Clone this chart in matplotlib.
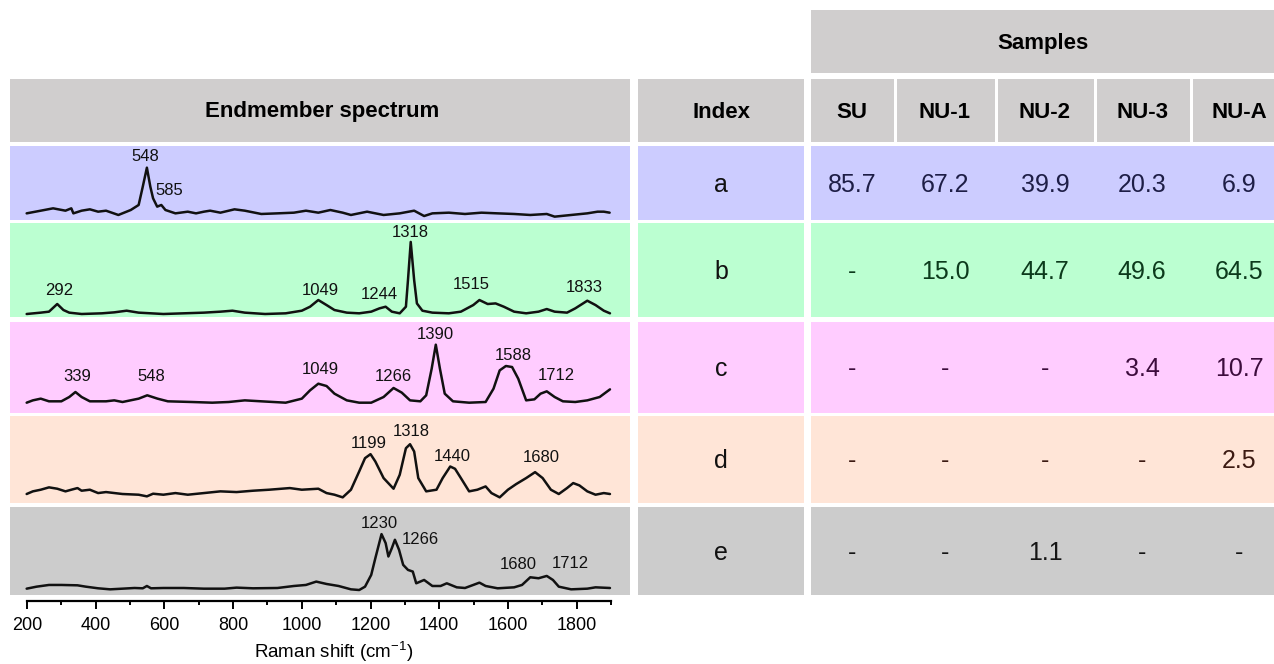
import matplotlib
matplotlib.use('Agg')
import matplotlib.pyplot as plt
from matplotlib.patches import Rectangle

plt.rcParams['font.family'] = ['Liberation Sans', 'DejaVu Sans']
plt.rcParams['mathtext.fontset'] = 'custom'
plt.rcParams['mathtext.rm'] = 'Liberation Sans'
plt.rcParams['mathtext.it'] = 'Liberation Sans:italic'
plt.rcParams['mathtext.bf'] = 'Liberation Sans:bold'

# ---------------- data ----------------
# Endmember spectra (Raman shift in cm-1, normalised intensity)
a_shift = [199, 240, 276, 312, 329, 335, 359, 383, 407, 430, 466, 502, 525, 537, 549, 559, 567, 579,
           591, 603, 632, 668, 692, 715, 733, 763, 804, 834, 882, 929, 977, 1012, 1048, 1083, 1119,
           1143, 1190, 1238, 1285, 1327, 1356, 1380, 1428, 1475, 1523, 1570, 1618, 1665, 1713, 1736,
           1784, 1831, 1861, 1879, 1896]
a_int = [0.127, 0.178, 0.223, 0.178, 0.223, 0.127, 0.178, 0.204, 0.159, 0.178, 0.096, 0.191, 0.287,
         0.637, 1.000, 0.637, 0.414, 0.255, 0.287, 0.191, 0.127, 0.159, 0.127, 0.159, 0.178, 0.140,
         0.204, 0.178, 0.115, 0.127, 0.140, 0.178, 0.140, 0.191, 0.140, 0.096, 0.159, 0.096, 0.127,
         0.178, 0.076, 0.127, 0.140, 0.115, 0.140, 0.127, 0.115, 0.096, 0.115, 0.064, 0.096, 0.127,
         0.159, 0.159, 0.140]

b_shift = [199, 240, 264, 288, 306, 323, 359, 418, 454, 490, 525, 597, 656, 715, 763, 798, 834, 893,
           953, 1000, 1024, 1048, 1072, 1095, 1131, 1167, 1202, 1226, 1244, 1262, 1285, 1303, 1309,
           1317, 1327, 1335, 1351, 1380, 1428, 1463, 1499, 1517, 1541, 1564, 1588, 1618, 1653, 1689,
           1713, 1736, 1772, 1796, 1831, 1855, 1879, 1897]
b_int = [0.040, 0.058, 0.071, 0.173, 0.093, 0.058, 0.040, 0.049, 0.062, 0.084, 0.058, 0.040, 0.049,
         0.058, 0.071, 0.084, 0.058, 0.040, 0.049, 0.084, 0.137, 0.226, 0.159, 0.093, 0.058, 0.049,
         0.071, 0.115, 0.137, 0.071, 0.049, 0.137, 0.491, 1.000, 0.491, 0.181, 0.084, 0.058, 0.049,
         0.071, 0.159, 0.226, 0.173, 0.181, 0.137, 0.071, 0.049, 0.071, 0.106, 0.071, 0.058, 0.115,
         0.217, 0.159, 0.084, 0.049]

c_shift = [199, 217, 240, 264, 300, 323, 341, 359, 383, 430, 454, 478, 525, 550, 580, 610, 680, 739,
           787, 834, 882, 953, 1000, 1024, 1048, 1072, 1095, 1131, 1167, 1202, 1238, 1267, 1291, 1315,
           1345, 1362, 1378, 1390, 1402, 1416, 1440, 1487, 1535, 1558, 1576, 1594, 1612, 1630, 1653,
           1677, 1695, 1713, 1736, 1760, 1796, 1831, 1867, 1897]
c_int = [0.151, 0.185, 0.210, 0.171, 0.171, 0.234, 0.307, 0.234, 0.171, 0.171, 0.185, 0.161, 0.210,
         0.259, 0.210, 0.171, 0.161, 0.151, 0.161, 0.185, 0.171, 0.151, 0.210, 0.332, 0.429, 0.395,
         0.283, 0.185, 0.151, 0.151, 0.234, 0.366, 0.298, 0.185, 0.171, 0.259, 0.649, 1.000, 0.649,
         0.283, 0.171, 0.151, 0.161, 0.356, 0.624, 0.688, 0.673, 0.502, 0.185, 0.200, 0.283, 0.317,
         0.234, 0.171, 0.161, 0.185, 0.234, 0.346]

d_shift = [199, 217, 240, 264, 288, 312, 329, 347, 359, 383, 407, 430, 478, 525, 549, 567, 597, 632,
           668, 715, 763, 810, 858, 905, 965, 1000, 1048, 1072, 1095, 1119, 1143, 1167, 1184, 1200,
           1214, 1238, 1267, 1285, 1303, 1315, 1327, 1339, 1362, 1392, 1410, 1432, 1446, 1463, 1487,
           1511, 1535, 1552, 1576, 1600, 1624, 1653, 1679, 1701, 1725, 1748, 1772, 1790, 1808, 1831,
           1855, 1879, 1897]
d_int = [0.153, 0.198, 0.226, 0.266, 0.243, 0.198, 0.226, 0.254, 0.209, 0.226, 0.169, 0.186, 0.153,
         0.141, 0.113, 0.158, 0.141, 0.169, 0.141, 0.169, 0.198, 0.186, 0.209, 0.226, 0.254, 0.226,
         0.243, 0.169, 0.141, 0.096, 0.226, 0.537, 0.763, 0.831, 0.706, 0.424, 0.243, 0.480, 0.932,
         1.000, 0.876, 0.424, 0.198, 0.226, 0.424, 0.621, 0.582, 0.424, 0.198, 0.226, 0.282, 0.169,
         0.096, 0.226, 0.322, 0.424, 0.525, 0.424, 0.226, 0.153, 0.254, 0.339, 0.299, 0.198, 0.141,
         0.169, 0.153]

e_shift = [199, 228, 264, 300, 347, 371, 407, 442, 478, 513, 537, 549, 561, 597, 656, 715, 775, 810,
           858, 929, 977, 1012, 1042, 1072, 1107, 1143, 1167, 1184, 1202, 1214, 1232, 1244, 1252, 1262,
           1271, 1283, 1295, 1309, 1323, 1333, 1356, 1380, 1404, 1422, 1451, 1475, 1499, 1517, 1535,
           1570, 1618, 1641, 1665, 1689, 1713, 1731, 1748, 1784, 1831, 1855, 1897]
e_int = [0.104, 0.137, 0.165, 0.165, 0.159, 0.137, 0.110, 0.093, 0.104, 0.115, 0.110, 0.148, 0.110,
         0.115, 0.115, 0.104, 0.104, 0.121, 0.110, 0.115, 0.148, 0.165, 0.220, 0.181, 0.148, 0.093,
         0.082, 0.137, 0.330, 0.604, 1.000, 0.852, 0.632, 0.769, 0.907, 0.742, 0.495, 0.412, 0.385,
         0.192, 0.247, 0.148, 0.148, 0.192, 0.126, 0.115, 0.165, 0.203, 0.148, 0.110, 0.126, 0.165,
         0.291, 0.275, 0.313, 0.247, 0.137, 0.093, 0.104, 0.126, 0.115]

# Peak labels for each endmember
a_peaks = ['548', '585']
b_peaks = ['292', '1049', '1244', '1318', '1515', '1833']
c_peaks = ['339', '548', '1049', '1266', '1390', '1588', '1712']
d_peaks = ['1199', '1318', '1440', '1680']
e_peaks = ['1230', '1266', '1680', '1712']

# Table content
index_labels = ['a', 'b', 'c', 'd', 'e']
sample_names = ['SU', 'NU-1', 'NU-2', 'NU-3', 'NU-A']
su = [85.7, None, None, None, None]
nu1 = [67.2, 15.0, None, None, None]
nu2 = [39.9, 44.7, None, None, 1.1]
nu3 = [20.3, 49.6, 3.4, None, None]
nua = [6.9, 64.5, 10.7, 2.5, None]

# ---------------- layout & style ----------------
W, H = 1274, 664
fig = plt.figure(figsize=(W / 100, H / 100), dpi=100)
fig.patch.set_facecolor('white')

row_colors = ['#CCCCFF', '#BBFFD1', '#FFCCFF', '#FFE5D7', '#CCCCCC']
text_colors = ['#1E1E46', '#0C3A1C', '#3C0C3C', '#3C1A12', '#151515']
header_color = '#D0CECE'

row_px = [(146, 220), (223, 317), (322, 413), (416, 503), (507, 595)]
row_ytop = [1.414, 1.252, 1.332, 1.480, 1.445]
label_pos = [
    [(545, 1.21), (614, 0.573)],
    [(294, 0.358), (1054, 0.358), (1226, 0.305), (1317, 1.119), (1493, 0.438), (1822, 0.394)],
    [(347, 0.527), (561, 0.527), (1054, 0.639), (1267, 0.541), (1390, 1.151), (1615, 0.844),
     (1742, 0.551)],
    [(1196, 1.017), (1318, 1.215), (1437, 0.791), (1698, 0.774)],
    [(1226, 1.181), (1345, 0.907), (1630, 0.495), (1782, 0.522)],
]


def fx(x):
    return x / W


def fy(y):
    return 1 - y / H


def add_box(x0, y0, x1, y1, color):
    fig.add_artist(Rectangle((fx(x0), fy(y1)), fx(x1) - fx(x0), fy(y0) - fy(y1),
                             transform=fig.transFigure, facecolor=color,
                             edgecolor='none', zorder=0))


def add_text(x, y, s, **kw):
    fig.text(fx(x), fy(y), s, ha='center', va='center', **kw)


# Header row
add_box(811, 10, 1274, 73, header_color)
add_text(1043, 43, 'Samples', fontsize=16, fontweight='bold')
add_box(10, 79, 630, 142, header_color)
add_text(322, 111, 'Endmember spectrum', fontsize=16, fontweight='bold')
add_box(638, 79, 804, 142, header_color)
add_text(721, 112, 'Index', fontsize=16, fontweight='bold')
col_px = [(811, 894), (897, 995), (998, 1094), (1097, 1190), (1193, 1274)]
col_center = [852, 945, 1045, 1142, 1239]
for (c0, c1), cx, name in zip(col_px, col_center, sample_names):
    add_box(c0, 79, c1, 142, header_color)
    add_text(cx, 112, name, fontsize=16, fontweight='bold')

# Spectra
spectra = [(a_shift, a_int, a_peaks), (b_shift, b_int, b_peaks), (c_shift, c_int, c_peaks),
           (d_shift, d_int, d_peaks), (e_shift, e_int, e_peaks)]
xl = (200 - 17 / 0.34353, 1900 + 19 / 0.34353)
axes = []
for i, ((sx, si, pk), (y0, y1)) in enumerate(zip(spectra, row_px)):
    ax = fig.add_axes([fx(10), fy(y1), fx(630) - fx(10), fy(y0) - fy(y1)])
    ax.set_facecolor(row_colors[i])
    ax.plot(sx, si, color='#111111', lw=1.8, solid_joinstyle='round', solid_capstyle='round')
    ax.set_xlim(*xl)
    ax.set_ylim(0, row_ytop[i])
    for s in ax.spines.values():
        s.set_visible(False)
    ax.set_xticks([])
    ax.set_yticks([])
    for txt, (lx, ly) in zip(pk, label_pos[i]):
        ax.text(lx, ly, txt, ha='center', va='center', fontsize=12, color='#111111')
    axes.append(ax)

# Bottom axis on the last spectrum
axb = axes[-1]
axb.spines['bottom'].set_visible(True)
axb.spines['bottom'].set_position(('outward', 4.5))
axb.spines['bottom'].set_bounds(200, 1900)
axb.spines['bottom'].set_linewidth(1.6)
axb.set_xticks(list(range(200, 1801, 200)))
axb.set_xticks(list(range(300, 1901, 200)), minor=True)
axb.tick_params(axis='x', which='major', length=6, width=1.4, direction='out',
                labelsize=13, pad=5)
axb.tick_params(axis='x', which='minor', length=3.2, width=1.4, direction='out')
add_text(334, 652, 'Raman shift (cm$^{-1}$)', fontsize=13.5)

# Table body
values = [su, nu1, nu2, nu3, nua]
for i, (y0, y1) in enumerate(row_px):
    cy = (y0 + y1) / 2 + 2
    add_box(638, y0, 804, y1, row_colors[i])
    add_text(721, cy, index_labels[i], fontsize=18, color='#111111')
    add_box(811, y0, 1274, y1, row_colors[i])
    for cx, col in zip(col_center, values):
        v = col[i]
        s = '-' if v is None else f'{v:.1f}'
        add_text(cx, cy, s, fontsize=18, color=text_colors[i])

fig.savefig('out.png', dpi=100, facecolor='white')
